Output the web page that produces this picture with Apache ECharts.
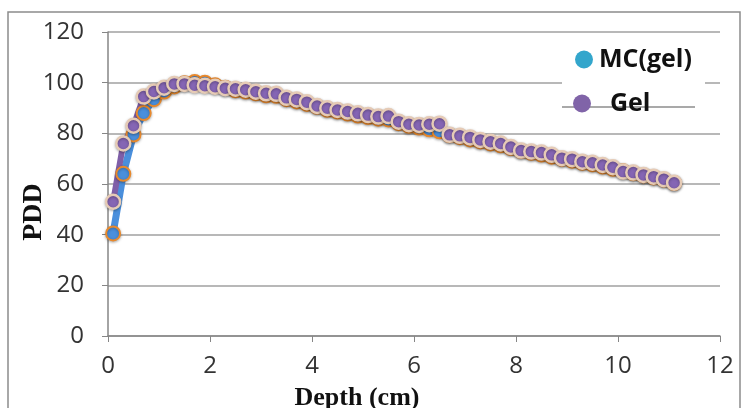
<!DOCTYPE html>
<html>
<head>
<meta charset="utf-8">
<script src="https://cdn.jsdelivr.net/npm/echarts@6/dist/echarts.min.js"></script>
<style>
  html, body { margin: 0; padding: 0; background: #fff; }
  #chart { width: 742px; height: 408px; }
</style>
</head>
<body>
<div id="chart"></div>
<script>
// depth (cm)
var depth = [0.1, 0.3, 0.5, 0.7, 0.9, 1.1, 1.3, 1.5, 1.7, 1.9,
             2.1, 2.3, 2.5, 2.7, 2.9, 3.1, 3.3, 3.5, 3.7, 3.9,
             4.1, 4.3, 4.5, 4.7, 4.9, 5.1, 5.3, 5.5, 5.7, 5.9,
             6.1, 6.3, 6.5, 6.7, 6.9, 7.1, 7.3, 7.5, 7.7, 7.9,
             8.1, 8.3, 8.5, 8.7, 8.9, 9.1, 9.3, 9.5, 9.7, 9.9,
             10.1, 10.3, 10.5, 10.7, 10.9, 11.1];
// PDD values
var mcGel = [40.5, 64, 79.5, 88, 93.5, 96.5, 98.5, 99.8, 100.3, 100,
             99, 98, 97, 96.5, 95.8, 95, 94.8, 93.5, 92.6, 91.6,
             90.5, 89.3, 88.6, 87.8, 87, 86.4, 85.8, 85.5, 84, 83,
             82.3, 81.6, 80.8, 79.2, 78.5, 77.6, 76.8, 76, 75.3, 74.2,
             73, 72.3, 71.6, 70.8, 69.9, 69.2, 68.4, 67.8, 66.9, 66,
             65, 64.2, 63.4, 62.6, 61.7, 60.4];
var gel = [53, 76, 83, 94.5, 96.5, 98, 99.5, 99.5, 99, 98.8,
           98.4, 97.8, 97.6, 97.2, 96.4, 95.8, 95.6, 94, 93.4, 92.3,
           90.8, 89.9, 89.2, 88.6, 87.9, 87.2, 86.6, 86.8, 84.6, 83.6,
           83.3, 83.6, 83.8, 79.4, 79, 78.4, 77.4, 76.7, 76, 74.6,
           73.2, 72.8, 72.4, 71.5, 70.2, 69.8, 68.8, 68.4, 67.5, 66.6,
           64.9, 64.5, 63.6, 62.9, 61.9, 60.5];

function pairs(xs, ys) {
  var out = [];
  for (var i = 0; i < xs.length; i++) out.push([xs[i], ys[i]]);
  return out;
}

var myChart = echarts.init(document.getElementById('chart'));
var labelFont = { color: '#333', fontSize: 24, fontFamily: 'Open Sans' };

myChart.setOption({
  animation: false,
  grid: { left: 108, right: 22, top: 32, bottom: 72, outerBoundsMode: 'none' },
  graphic: [
    { type: 'rect', shape: { x: 8, y: 12, width: 732, height: 400 },
      style: { fill: null, stroke: '#8c8c8c', lineWidth: 1.5 }, z: 0 },
    { type: 'rect', shape: { x: 562, y: 78, width: 143, height: 28 },
      style: { fill: '#fff' }, z: 5 },
    { type: 'line', shape: { x1: 562, y1: 107, x2: 695, y2: 107 },
      style: { stroke: '#8c8c8c', lineWidth: 1.5 }, z: 6 }
  ],
  legend: [
    {
      left: 570, top: 42, itemWidth: 18, itemHeight: 18,
      icon: 'circle', itemGap: 0, z: 10,
      textStyle: { fontSize: 25, fontWeight: 'bold', color: '#111', fontFamily: 'Open Sans', padding: [0, 0, 0, 1] },
      data: [{ name: 'MC(gel)', itemStyle: { color: '#33a6cc', borderWidth: 0 } }]
    },
    {
      left: 568, top: 86, itemWidth: 18, itemHeight: 18,
      icon: 'circle', z: 10,
      textStyle: { fontSize: 25, fontWeight: 'bold', color: '#111', fontFamily: 'Open Sans', padding: [0, 0, 0, 14] },
      data: [{ name: 'Gel', itemStyle: { color: '#8064a8', borderWidth: 0 } }]
    }
  ],
  xAxis: {
    type: 'value', min: 0, max: 12, interval: 2,
    name: 'Depth (cm)', nameLocation: 'middle', nameGap: 49, nameMoveOverlap: false,
    nameTextStyle: { fontFamily: 'Liberation Serif', fontWeight: 'bold', fontSize: 26, color: '#111', padding: [0, 114, 0, 0] },
    axisLine: { lineStyle: { color: '#868686', width: 1.5 } },
    axisTick: { show: true, length: 6, lineStyle: { color: '#868686' } },
    axisLabel: Object.assign({ margin: 18 }, labelFont),
    splitLine: { show: false }
  },
  yAxis: {
    type: 'value', min: 0, max: 120, interval: 20,
    name: 'PDD', nameLocation: 'middle', nameGap: 60, nameMoveOverlap: false,
    nameTextStyle: { fontFamily: 'Liberation Serif', fontWeight: 'bold', fontSize: 28, color: '#111', padding: [0, 56, 0, 0] },
    axisLine: { show: true, lineStyle: { color: '#868686', width: 1.5 } },
    axisTick: { show: true, length: 6, lineStyle: { color: '#868686' } },
    axisLabel: Object.assign({ margin: 24 }, labelFont),
    splitLine: { lineStyle: { color: '#a0a0a0', width: 1.5 } }
  },
  series: [
    {
      name: 'MC(gel)', type: 'line', data: pairs(depth, mcGel),
      symbol: 'circle', symbolSize: 14,
      lineStyle: { color: '#4a8fdc', width: 7 },
      itemStyle: { color: '#4a8fdc', borderColor: '#e8892c', borderWidth: 2,
                   shadowBlur: 3, shadowColor: 'rgba(0,0,0,0.3)', shadowOffsetY: 1 }
    },
    {
      name: 'Gel', type: 'line', data: pairs(depth, gel),
      symbol: 'circle', symbolSize: 14,
      lineStyle: { color: '#7f5fa8', width: 6 },
      itemStyle: { color: '#8565b4', borderColor: '#e6cbb6', borderWidth: 2.5,
                   shadowBlur: 3, shadowColor: 'rgba(0,0,0,0.3)', shadowOffsetY: 1 }
    }
  ]
});
</script>
</body>
</html>
